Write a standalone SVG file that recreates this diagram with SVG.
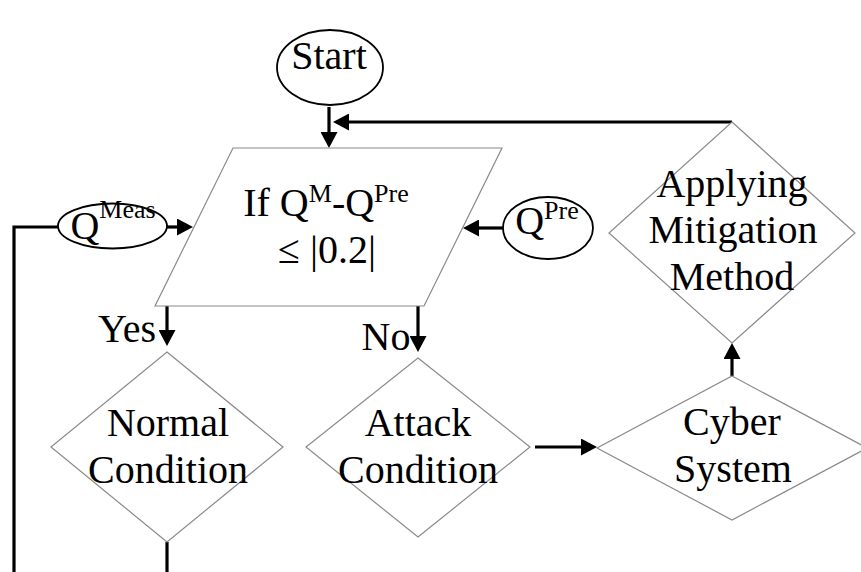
<svg xmlns="http://www.w3.org/2000/svg" width="861" height="572" viewBox="0 0 861 572">
<defs>
<style>
.shape{fill:#fff;stroke:#8a8a8a;stroke-width:1.2}
.oval{fill:#fff;stroke:#000;stroke-width:1.8}
.t{font-family:"Liberation Serif","Times New Roman",serif;font-size:40px;fill:#000;text-anchor:middle}
.s{font-size:26px}
.c{fill:none;stroke:#000;stroke-width:3.2}
.a{marker-end:url(#ah)}
</style>
<marker id="ah" markerUnits="userSpaceOnUse" markerWidth="16" markerHeight="17" refX="0" refY="8.5" orient="auto" viewBox="0 0 16 17">
<path d="M0,0 L16,8.5 L0,17 Z" fill="#000"/>
</marker>
</defs>
<rect width="861" height="572" fill="#fff"/>
<g id="connectors">
<path class="c a" d="M329,107 V132"/>
<path class="c a" d="M732,122 H349"/>
<path class="c a" d="M167,227 H177"/>
<path class="c a" d="M503,228 H479"/>
<path class="c a" d="M167,306 V330"/>
<path class="c a" d="M418,306 V336"/>
<path class="c a" d="M535,447 H581"/>
<path class="c a" d="M732,376 V359"/>
<path class="c" d="M58,227 H14 V572"/>
<path class="c" d="M167,542 V572"/>
</g>
<g id="start">
<ellipse class="oval" cx="330" cy="67.5" rx="53" ry="37.5"/>
<text class="t" x="329" y="69" font-size="41">Start</text>
</g>
<g id="decision">
<polygon class="shape" points="233,148 502,148 424,306 155,306"/>
<text class="t" x="326" y="216">If Q<tspan class="s" dy="-14">M</tspan><tspan dy="14">-Q</tspan><tspan class="s" dy="-14">Pre</tspan></text>
<text class="t" x="327" y="263">≤ |0.2|</text>
</g>
<g id="qmeas">
<ellipse class="oval" cx="112.5" cy="226" rx="54.5" ry="22.5"/>
<text class="t" x="113" y="239" font-size="37">Q<tspan class="s" dy="-21">Meas</tspan></text>
</g>
<g id="qpre">
<ellipse class="oval" cx="548" cy="228" rx="45" ry="31"/>
<text class="t" x="547" y="234" font-size="37">Q<tspan class="s" dy="-15">Pre</tspan></text>
</g>
<g id="mitigation">
<polygon class="shape" points="732,122 855,233 732,343 609,233"/>
<text class="t" x="732" y="197">Applying</text>
<text class="t" x="733" y="243">Mitigation</text>
<text class="t" x="732" y="290">Method</text>
</g>
<g id="normal">
<polygon class="shape" points="167,352 283,447 167,542 51,447"/>
<text class="t" x="168" y="436">Normal</text>
<text class="t" x="168" y="483">Condition</text>
</g>
<g id="attack">
<polygon class="shape" points="418,358 530,447 418,537 306,447"/>
<text class="t" x="418" y="436">Attack</text>
<text class="t" x="418" y="483">Condition</text>
</g>
<g id="cyber">
<polygon class="shape" points="732,376 867,448 732,520 597,448"/>
<text class="t" x="732" y="435">Cyber</text>
<text class="t" x="733" y="482">System</text>
</g>
<g id="labels">
<text class="t" x="127" y="342">Yes</text>
<text class="t" x="386" y="350" font-size="41">No</text>
</g>
</svg>
